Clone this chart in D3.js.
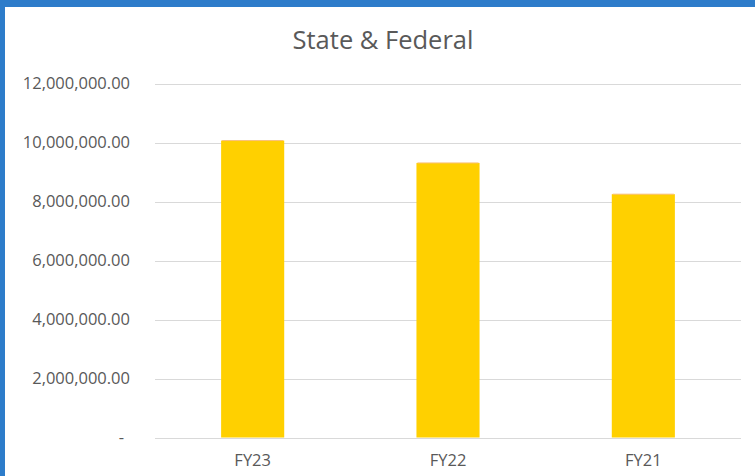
<!DOCTYPE html>
<html>
<head>
<meta charset="utf-8">
<script src="https://cdn.jsdelivr.net/npm/d3@7"></script>
<style>
  body { margin: 0; background: #fff; }
  svg { display: block; }
</style>
</head>
<body>
<div id="chart"></div>
<script>
// chart data
var categories = ["FY23", "FY22", "FY21"];
var values = [10080000, 9320000, 8260000];
var yTicks = [0, 2000000, 4000000, 6000000, 8000000, 10000000, 12000000];
var title = "State & Federal";

var svgWidth = 755;
var svgHeight = 476;

var margin = { top: 84, right: 14, bottom: 38.5, left: 155 };
var width = svgWidth - margin.left - margin.right;
var height = svgHeight - margin.top - margin.bottom;

var svg = d3.select("#chart")
    .append("svg")
    .attr("width", svgWidth)
    .attr("height", svgHeight);

// white background + blue window frame on top and left
svg.append("rect").attr("width", svgWidth).attr("height", svgHeight).attr("fill", "#fff");
svg.append("rect").attr("x", 0).attr("y", 0).attr("width", svgWidth).attr("height", 7).attr("fill", "#2d7cca");
svg.append("rect").attr("x", 0).attr("y", 0).attr("width", 5).attr("height", svgHeight).attr("fill", "#2d7cca");

var chartGroup = svg.append("g")
    .attr("transform", `translate(${margin.left}, ${margin.top})`);

var xScale = d3.scaleBand()
    .domain(categories)
    .range([0, width])
    .paddingInner(0.677)
    .paddingOuter(0.3385);

var yScale = d3.scaleLinear()
    .domain([0, 12000000])
    .range([height, 0]);

// gridlines
chartGroup.selectAll(".grid")
    .data(yTicks)
    .enter()
    .append("line")
    .attr("x1", 0)
    .attr("x2", width)
    .attr("y1", d => Math.round(yScale(d)) + 0.5)
    .attr("y2", d => Math.round(yScale(d)) + 0.5)
    .attr("stroke", "#d9d9d9")
    .attr("stroke-width", 1);

// y axis labels
var fmt = d3.format(",.2f");
var leftAxis = d3.axisLeft(yScale)
    .tickValues(yTicks)
    .tickSize(0)
    .tickPadding(25)
    .tickFormat(d => d === 0 ? "-" : fmt(d));

var yAxis = chartGroup.append("g").call(leftAxis);
yAxis.select(".domain").remove();
yAxis.selectAll("text")
    .attr("font-family", "'Open Sans', sans-serif")
    .attr("font-size", "16.5px")
    .attr("fill", "#595959")
    .attr("dy", "0.3em")
    .attr("dx", d => d === 0 ? -6 : 0);

// bars
chartGroup.selectAll(".bar")
    .data(values)
    .enter()
    .append("rect")
    .attr("x", (d, i) => xScale(categories[i]))
    .attr("y", d => yScale(d))
    .attr("width", xScale.bandwidth())
    .attr("height", d => height - yScale(d))
    .attr("fill", "#ffd000");

// thin warm edge on bar tops
chartGroup.selectAll(".bartop")
    .data(values)
    .enter()
    .append("line")
    .attr("x1", (d, i) => xScale(categories[i]) + 1)
    .attr("x2", (d, i) => xScale(categories[i]) + xScale.bandwidth() - 1)
    .attr("y1", d => yScale(d))
    .attr("y2", d => yScale(d))
    .attr("stroke", "#f9c07a")
    .attr("stroke-width", 1);

// x axis labels
var bottomAxis = d3.axisBottom(xScale).tickSize(0).tickPadding(17);
var xAxis = chartGroup.append("g")
    .attr("transform", `translate(0, ${height})`)
    .call(bottomAxis);
xAxis.select(".domain").remove();
xAxis.selectAll("text")
    .attr("font-family", "'Open Sans', sans-serif")
    .attr("font-size", "16.5px")
    .attr("fill", "#595959");

// title
svg.append("text")
    .attr("x", 383)
    .attr("y", 48.5)
    .attr("text-anchor", "middle")
    .attr("font-family", "'Open Sans', sans-serif")
    .attr("font-size", "25.5px")
    .attr("fill", "#595959")
    .text(title);
</script>
</body>
</html>
